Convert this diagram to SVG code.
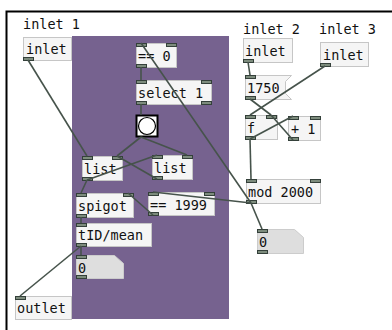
<svg xmlns="http://www.w3.org/2000/svg" width="392" height="330" viewBox="0 0 392 330">
  <style>
    .box { fill: #f5f5f5; stroke: #c6c6c6; stroke-width: 1; }
    .num { fill: #dedede; stroke: #cccccc; stroke-width: 1; }
    .io { fill: #7d8c7d; stroke: #34403a; stroke-width: 1; }
    .t { font-family: "DejaVu Sans Mono", "Liberation Mono", monospace; font-size: 13.5px; fill: #111; }
    .c { fill: none; stroke: #46534b; stroke-width: 1.6; }
  </style>

  <!-- canvas frame and subpatch background -->
  <rect x="0" y="0" width="392" height="330" fill="#ffffff"/>
  <path d="M6.5 330 V11.5 H392" fill="none" stroke="#000" stroke-width="2"/>
  <rect x="72" y="36" width="157" height="283" fill="#76628f"/>

  <!-- comments -->
  <text class="t" x="23" y="29">inlet 1</text>
  <text class="t" x="243" y="34">inlet 2</text>
  <text class="t" x="319" y="34">inlet 3</text>

  <g id="inlet1">
    <rect class="box" x="23.5" y="37.5" width="48" height="23"/>
    <text class="t" x="26" y="54">inlet</text>
    <rect class="io" x="23.5" y="57.5" width="10" height="3"/>
  </g>

  <g id="eq0">
    <rect class="box" x="136.5" y="43.5" width="40" height="24"/>
    <text class="t" x="138" y="61">== 0</text>
    <rect class="io" x="136.5" y="43.5" width="10" height="3"/>
    <rect class="io" x="166.5" y="43.5" width="10" height="3"/>
    <rect class="io" x="136.5" y="64.5" width="10" height="3"/>
  </g>

  <g id="select1">
    <rect class="box" x="136.5" y="80.5" width="75" height="24"/>
    <text class="t" x="138" y="98">select 1</text>
    <rect class="io" x="136.5" y="80.5" width="10" height="3"/>
    <rect class="io" x="201.5" y="80.5" width="10" height="3"/>
    <rect class="io" x="136.5" y="101.5" width="10" height="3"/>
    <rect class="io" x="201.5" y="101.5" width="10" height="3"/>
  </g>

  <g id="bang">
    <rect x="136.5" y="115.5" width="21" height="21" fill="#fff" stroke="#000" stroke-width="2"/>
    <circle cx="147" cy="126" r="8.5" fill="#fff" stroke="#000" stroke-width="1.2"/>
  </g>

  <g id="listA">
    <rect class="box" x="82.5" y="156.5" width="40" height="24"/>
    <text class="t" x="84" y="174">list</text>
    <rect class="io" x="82.5" y="156.5" width="10" height="3"/>
    <rect class="io" x="112.5" y="156.5" width="10" height="3"/>
    <rect class="io" x="82.5" y="177.5" width="10" height="3"/>
  </g>

  <g id="listB">
    <rect class="box" x="152.5" y="155.5" width="40" height="24"/>
    <text class="t" x="154" y="173">list</text>
    <rect class="io" x="152.5" y="155.5" width="10" height="3"/>
    <rect class="io" x="182.5" y="155.5" width="10" height="3"/>
    <rect class="io" x="152.5" y="176.5" width="10" height="3"/>
  </g>

  <g id="spigot">
    <rect class="box" x="76.5" y="193.5" width="57" height="24"/>
    <text class="t" x="78" y="211">spigot</text>
    <rect class="io" x="76.5" y="193.5" width="10" height="3"/>
    <rect class="io" x="123.5" y="193.5" width="10" height="3"/>
    <rect class="io" x="76.5" y="214.5" width="10" height="3"/>
  </g>

  <g id="eq1999">
    <rect class="box" x="148.5" y="192.5" width="66" height="23"/>
    <text class="t" x="150" y="210">== 1999</text>
    <rect class="io" x="148.5" y="192.5" width="10" height="3"/>
    <rect class="io" x="204.5" y="192.5" width="10" height="3"/>
    <rect class="io" x="148.5" y="212.5" width="10" height="3"/>
  </g>

  <g id="tidmean">
    <rect class="box" x="76.5" y="223.5" width="75" height="23"/>
    <text class="t" x="78" y="240">tID/mean</text>
    <rect class="io" x="76.5" y="223.5" width="10" height="3"/>
    <rect class="io" x="76.5" y="243.5" width="10" height="3"/>
  </g>

  <g id="numA">
    <path class="num" d="M76.5 255.5 H114.5 L123.5 263.5 V278.5 H76.5 Z"/>
    <text class="t" x="78" y="273">0</text>
    <rect class="io" x="76.5" y="255.5" width="10" height="3"/>
    <rect class="io" x="76.5" y="275.5" width="10" height="3"/>
  </g>

  <g id="outlet">
    <rect class="box" x="15.5" y="296.5" width="56" height="23"/>
    <text class="t" x="17" y="313">outlet</text>
    <rect class="io" x="15.5" y="296.5" width="10" height="3"/>
  </g>

  <g id="inlet2">
    <rect class="box" x="243.5" y="38.5" width="49" height="24"/>
    <text class="t" x="245" y="56">inlet</text>
    <rect class="io" x="243.5" y="59.5" width="10" height="3"/>
  </g>

  <g id="inlet3">
    <rect class="box" x="320.5" y="42.5" width="48" height="24"/>
    <text class="t" x="323" y="60">inlet</text>
    <rect class="io" x="320.5" y="63.5" width="10" height="3"/>
  </g>

  <g id="msg1750">
    <path class="box" d="M245.5 75.5 H291.5 L285.5 81.5 V93.5 L291.5 99.5 H245.5 Z"/>
    <text class="t" x="247" y="93">1750</text>
    <rect class="io" x="245.5" y="75.5" width="10" height="3"/>
    <rect class="io" x="245.5" y="96.5" width="10" height="3"/>
  </g>

  <g id="f">
    <rect class="box" x="245.5" y="115.5" width="32" height="24"/>
    <text class="t" x="247" y="133">f</text>
    <rect class="io" x="245.5" y="115.5" width="10" height="3"/>
    <rect class="io" x="266.5" y="115.5" width="10" height="3"/>
    <rect class="io" x="245.5" y="136.5" width="10" height="3"/>
  </g>

  <g id="plus1">
    <rect class="box" x="288.5" y="116.5" width="32" height="24"/>
    <text class="t" x="291" y="134">+ 1</text>
    <rect class="io" x="288.5" y="116.5" width="10" height="3"/>
    <rect class="io" x="310.5" y="116.5" width="10" height="3"/>
    <rect class="io" x="288.5" y="137.5" width="10" height="3"/>
  </g>

  <g id="mod2000">
    <rect class="box" x="246.5" y="179.5" width="74" height="24"/>
    <text class="t" x="248" y="197">mod 2000</text>
    <rect class="io" x="246.5" y="179.5" width="10" height="3"/>
    <rect class="io" x="310.5" y="179.5" width="10" height="3"/>
    <rect class="io" x="246.5" y="200.5" width="10" height="3"/>
  </g>

  <g id="numB">
    <path class="num" d="M257.5 229.5 H294.5 L303.5 237.5 V253.5 H257.5 Z"/>
    <text class="t" x="259" y="247">0</text>
    <rect class="io" x="257.5" y="229.5" width="10" height="3"/>
    <rect class="io" x="257.5" y="250.5" width="10" height="3"/>
  </g>

  <!-- patch cords, outlet to inlet -->
  <g id="connections">
    <line class="c" x1="28" y1="60" x2="87" y2="156"/>
    <line class="c" x1="141" y1="67" x2="141" y2="80"/>
    <line class="c" x1="141" y1="104" x2="141" y2="115"/>
    <line class="c" x1="141" y1="137" x2="117" y2="156"/>
    <line class="c" x1="141" y1="137" x2="187" y2="155"/>
    <line class="c" x1="87" y1="180" x2="157" y2="155"/>
    <line class="c" x1="87" y1="180" x2="81" y2="193"/>
    <line class="c" x1="157" y1="179" x2="117" y2="156"/>
    <line class="c" x1="81" y1="217" x2="81" y2="223"/>
    <line class="c" x1="153" y1="215" x2="128" y2="193"/>
    <line class="c" x1="81" y1="246" x2="81" y2="255"/>
    <line class="c" x1="81" y1="246" x2="20" y2="296"/>
    <line class="c" x1="248" y1="62" x2="250" y2="75"/>
    <line class="c" x1="250" y1="99" x2="271" y2="115"/>
    <line class="c" x1="325" y1="66" x2="250" y2="115"/>
    <line class="c" x1="250" y1="139" x2="293" y2="116"/>
    <line class="c" x1="293" y1="140" x2="271" y2="115"/>
    <line class="c" x1="250" y1="139" x2="251" y2="179"/>
    <line class="c" x1="251" y1="203" x2="141" y2="43"/>
    <line class="c" x1="251" y1="203" x2="153" y2="192"/>
    <line class="c" x1="251" y1="203" x2="262" y2="229"/>
  </g>
</svg>
